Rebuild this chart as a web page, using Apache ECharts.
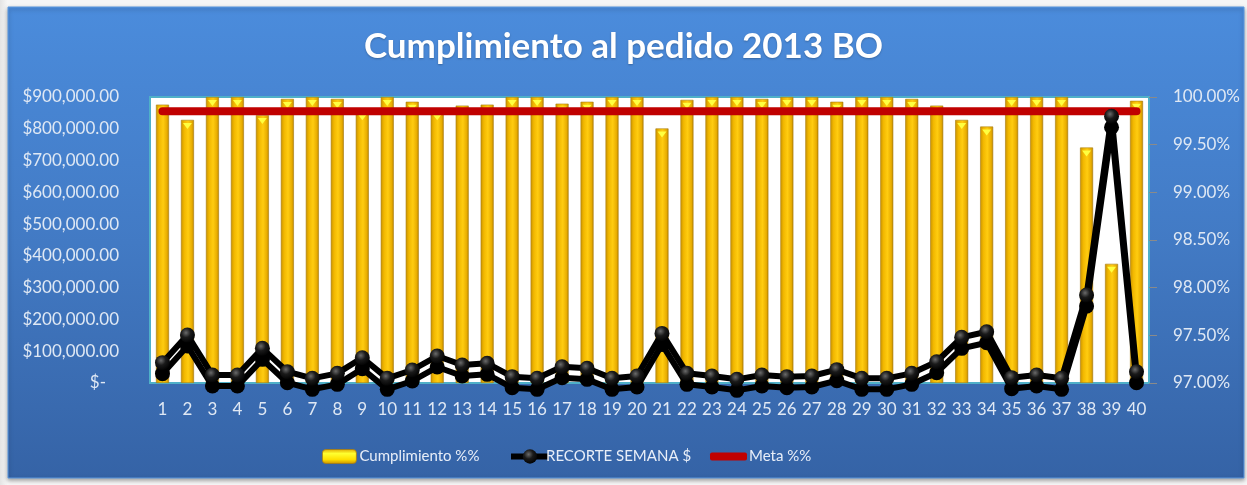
<!DOCTYPE html>
<html>
<head>
<meta charset="utf-8">
<title>Cumplimiento al pedido 2013 BO</title>
<script src="https://cdn.jsdelivr.net/npm/echarts@6/dist/echarts.min.js"></script>
<style>
  html, body { margin: 0; padding: 0; background: #ffffff; }
  #chart { width: 1247px; height: 485px; }
</style>
</head>
<body>
<div id="chart"></div>
<script>
// Semanas 1..40
const weeks = Array.from({ length: 40 }, (_, i) => String(i + 1));

// Cumplimiento semanal (%)
const cumplimiento = [
  99.92, 99.76, 100.00, 100.00, 99.81, 99.98, 100.00, 99.98, 99.85, 100.00,
  99.95, 99.85, 99.91, 99.92, 100.00, 100.00, 99.93, 99.95, 100.00, 100.00,
  99.67, 99.97, 100.00, 100.00, 99.98, 100.00, 100.00, 99.95, 100.00, 100.00,
  99.98, 99.91, 99.76, 99.69, 100.00, 100.00, 100.00, 99.47, 98.25, 99.96
];

// Recorte por semana ($)
const recorte = [
  64000, 151000, 25000, 25000, 109000, 35600, 14700, 30400, 79600, 14700,
  40900, 84900, 56600, 61900, 19900, 14700, 51300, 46100, 14700, 22000,
  156100, 30400, 22000, 11500, 25000, 19900, 22000, 42000, 14700, 14700,
  30400, 67000, 143600, 161300, 16800, 25000, 14700, 276600, 839300, 35600
];

// Meta de cumplimiento (%)
const metaValue = 99.85;
const meta = weeks.map(() => metaValue);

// Ejes
const moneyMin = 0, moneyMax = 900000, moneyStep = 100000;
const pctMin = 97, pctMax = 100, pctStep = 0.5;

const labelColor = '#dfe8f4';
const fontFamily = 'Lato, "Open Sans", sans-serif';

function money(v) {
  if (v === 0) return '$-   ';
  return '$' + v.toLocaleString('en-US', { minimumFractionDigits: 2, maximumFractionDigits: 2 });
}

const chart = echarts.init(document.getElementById('chart'), null, { renderer: 'canvas' });

const barGradient = new echarts.graphic.LinearGradient(0, 0, 1, 0, [
  { offset: 0, color: '#c99200' },
  { offset: 0.25, color: '#f2b800' },
  { offset: 0.55, color: '#ffcc10' },
  { offset: 0.85, color: '#e8ac00' },
  { offset: 1, color: '#b88400' }
]);

const legendBarGradient = new echarts.graphic.LinearGradient(0, 0, 0, 1, [
  { offset: 0, color: '#e0a800' },
  { offset: 0.3, color: '#ffff30' },
  { offset: 0.7, color: '#ffe000' },
  { offset: 1, color: '#c89000' }
]);

const ballGradient = new echarts.graphic.RadialGradient(0.4, 0.35, 0.7, [
  { offset: 0, color: '#6a6a6a' },
  { offset: 0.45, color: '#1a1a1a' },
  { offset: 1, color: '#000000' }
]);

const legendText = { color: '#e8eef8', fontFamily: fontFamily, fontSize: 15 };

const option = {
  animation: false,
  backgroundColor: '#ffffff',
  graphic: [
    {
      type: 'rect',
      z: -10,
      shape: { x: 0, y: 0, width: 1247, height: 485 },
      style: {
        fill: new echarts.graphic.LinearGradient(0, 0, 1, 0, [
          { offset: 0, color: '#e4e4e4' },
          { offset: 0.006, color: '#f6f6f6' },
          { offset: 1, color: '#f6f6f6' }
        ])
      },
      silent: true
    },
    {
      type: 'rect',
      z: -9,
      shape: { x: 8, y: 7, width: 1236, height: 471 },
      style: {
        fill: new echarts.graphic.LinearGradient(0, 0, 0, 1, [
          { offset: 0, color: '#4b8cdc' },
          { offset: 0.5, color: '#427ac4' },
          { offset: 1, color: '#3563a6' }
        ]),
        stroke: '#5a98e0',
        lineWidth: 1,
        shadowColor: 'rgba(0,0,0,0.35)',
        shadowBlur: 4,
        shadowOffsetY: 2
      },
      silent: true
    }
  ],
  title: {
    text: 'Cumplimiento al pedido 2013 BO',
    left: 'center',
    top: 24,
    textStyle: {
      color: '#ffffff',
      fontFamily: fontFamily,
      fontWeight: 'bold',
      fontSize: 35,
      textShadowColor: 'rgba(0,0,0,0.25)',
      textShadowBlur: 2,
      textShadowOffsetY: 1
    }
  },
  legend: [
    {
      left: 317, top: 444,
      data: ['Cumplimiento %%'],
      itemWidth: 34, itemHeight: 14,
      itemGap: 0,
      itemStyle: { color: legendBarGradient, borderColor: '#a87c10', borderWidth: 0.8 },
      textStyle: Object.assign({ padding: [0, 0, 0, -2] }, legendText),
      selectedMode: false
    },
    {
      left: 503, top: 444,
      data: ['RECORTE SEMANA $'],
      itemWidth: 38, itemHeight: 18,
      lineStyle: { width: 6, color: '#000000' },
      textStyle: Object.assign({ padding: [0, 0, 0, -8] }, legendText),
      selectedMode: false
    },
    {
      left: 705, top: 444,
      data: [{ name: 'Meta %%', icon: 'roundRect' }],
      itemWidth: 37, itemHeight: 8,
      itemStyle: { color: '#c00000' },
      textStyle: Object.assign({ padding: [0, 0, 0, -3] }, legendText),
      selectedMode: false
    }
  ],
  grid: {
    left: 150,
    right: 98,
    top: 97,
    bottom: 102,
    show: true,
    backgroundColor: '#ffffff',
    borderColor: '#4fb0c8',
    borderWidth: 2,
    containLabel: false
  },
  xAxis: {
    type: 'category',
    data: weeks,
    boundaryGap: true,
    axisLine: { show: false },
    axisTick: { show: false },
    splitLine: { show: false },
    axisLabel: {
      color: labelColor,
      fontFamily: fontFamily,
      fontSize: 17,
      margin: 18,
      interval: 0
    }
  },
  yAxis: [
    {
      type: 'value',
      min: moneyMin,
      max: moneyMax,
      interval: moneyStep,
      position: 'left',
      axisLine: { show: false },
      axisTick: { show: false },
      splitLine: { show: false },
      axisLabel: {
        color: labelColor,
        fontFamily: fontFamily,
        fontSize: 17,
        margin: 31,
        formatter: money
      }
    },
    {
      type: 'value',
      min: pctMin,
      max: pctMax,
      interval: pctStep,
      startValue: pctMin,
      position: 'right',
      axisLine: { show: false },
      axisTick: { show: true, length: 8, lineStyle: { color: '#8a8a8a', width: 1 } },
      splitLine: { show: false },
      axisLabel: {
        color: labelColor,
        fontFamily: fontFamily,
        fontSize: 17,
        margin: 24,
        formatter: (v) => v.toFixed(2) + '%'
      }
    }
  ],
  series: [
    {
      name: 'Cumplimiento %%',
      type: 'bar',
      yAxisIndex: 1,
      data: cumplimiento,
      barWidth: 13,
      clip: true,
      z: 2,
      itemStyle: {
        color: barGradient,
        borderColor: '#a87c10',
        borderWidth: 0.6
      }
    },
    {
      // punta biselada en la parte superior de cada barra
      name: 'Cumplimiento %% tope',
      type: 'pictorialBar',
      yAxisIndex: 1,
      data: cumplimiento,
      symbol: 'path://M0,0L10,0L5,6Z',
      symbolSize: [9, 6],
      symbolPosition: 'end',
      symbolOffset: [0, 3],
      z: 3,
      itemStyle: { color: '#ffff40' },
      tooltip: { show: false }
    },
    {
      name: 'Meta %%',
      type: 'line',
      yAxisIndex: 1,
      data: meta,
      symbol: 'none',
      z: 4,
      lineStyle: { color: '#c00000', width: 8, cap: 'round' },
      itemStyle: { color: '#c00000' }
    },
    {
      name: 'RECORTE SEMANA $',
      type: 'line',
      yAxisIndex: 0,
      data: recorte,
      symbol: 'circle',
      symbolSize: 15,
      clip: false,
      z: 5,
      lineStyle: {
        color: '#000000',
        width: 6,
        shadowColor: 'rgba(0,0,0,1)',
        shadowBlur: 0,
        shadowOffsetY: 11
      },
      itemStyle: {
        color: ballGradient,
        borderWidth: 0,
        shadowColor: 'rgba(0,0,0,1)',
        shadowBlur: 0,
        shadowOffsetY: 11
      }
    }
  ]
};

chart.setOption(option);
</script>
</body>
</html>
